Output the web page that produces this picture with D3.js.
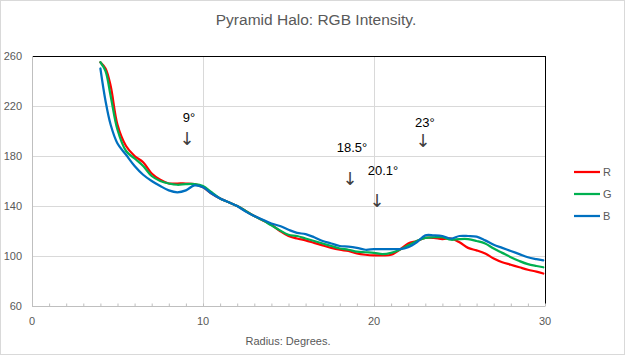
<!DOCTYPE html>
<html><head><meta charset="utf-8">
<script src="https://cdn.jsdelivr.net/npm/d3@7"></script>
<style>body{margin:0;background:#fff}svg{display:block}</style>
</head><body><svg id="c" width="625" height="355"></svg>
<script>
const radius = [4.0,4.3,4.6,5.0,5.5,6.0,6.5,7.0,7.5,8.0,8.5,9.0,9.5,10.0,10.5,11,11.5,12,12.5,13,13.5,14,14.5,15,15.5,16,16.5,17,17.5,18,18.5,19,19.5,20,20.5,21,21.5,22,22.5,23,23.5,24,24.5,25,25.5,26,26.5,27,27.5,28,28.5,29,29.5,29.9];
const red = [255,250,236,205,188,180,175,166,161,158,158,158,157.5,155,150,146,143,140,136,132,128.5,125,120,116,114,112.5,110.5,108.5,106.5,105,104,102,101,100.5,100.5,101,105,110,112,114.5,114.5,113.5,114,111,106.5,104.5,102,98,95,93,91,89,87.5,86];
const green = [255,248,228,201,184,178,172,164,160,158,157,157.5,157.5,156,151,146,143,140,136,132,128.5,124.5,120.5,117,116,114,112,110,108,106,105,103.5,103,102.5,101.5,102.5,105,108.5,112,114.5,115,115,113,113.5,113.5,112,110,106,102.5,99,96,93.5,92,91];
const blue = [250,224,205,190,181,172,165,160,156,152.5,151,152.5,156.5,155,150,146,143,140,135.5,132,129,126,124,121,118.5,117.5,115,112,110,108,107.5,106.5,105,105.5,105.5,105.5,105.5,107,111,116.5,116.5,116,114,116,116,115.5,112.5,109,106.5,104,101.5,99,97.5,96.5];
const seriesNames = ["R","G","B"];
const seriesColors = ["#FF0000","#00B050","#0070C0"];
const yTicks = [60,100,140,180,220,260];
const xTicks = [0,10,20,30];
const annotLabels = ["9°","18.5°","20.1°","23°"];
const annotTextX = [9.18,18.71,20.53,22.98];
const annotTextY = [207,183,164.5,203];
const annotArrowX = [9.06,18.6,20.18,22.87];
const annotArrowY = [190,158,140,188];

const svg = d3.select("#c");
const grey = "#595959";
svg.append("rect").attr("x",0.5).attr("y",0.5).attr("width",624).attr("height",354)
  .attr("fill","#fff").attr("stroke","#D9D9D9");

const x = d3.scaleLinear().domain([0,30]).range([32,545]);
const y = d3.scaleLinear().domain([60,260]).range([306,56]);

svg.append("text").attr("x",316).attr("y",25).attr("text-anchor","middle")
  .attr("font-family","Liberation Sans, Arial, sans-serif").attr("font-size",15.5).attr("fill",grey)
  .text("Pyramid Halo: RGB Intensity.");

const g = svg.append("g");
g.selectAll("line.h").data(yTicks.filter(v=>v>60&&v<260)).join("line")
  .attr("x1",x(0)).attr("x2",x(30)).attr("y1",d=>Math.round(y(d))+0.5).attr("y2",d=>Math.round(y(d))+0.5)
  .attr("stroke","#D9D9D9");
g.selectAll("line.v").data(xTicks.filter(v=>v>0&&v<30)).join("line")
  .attr("y1",y(60)).attr("y2",y(260)).attr("x1",d=>Math.round(x(d))+0.5).attr("x2",d=>Math.round(x(d))+0.5)
  .attr("stroke","#D9D9D9");
g.append("line").attr("x1",x(0)).attr("x2",x(30)+0.5).attr("y1",Math.round(y(260))+0.5).attr("y2",Math.round(y(260))+0.5).attr("stroke","#000");
g.append("line").attr("x1",Math.round(x(30))+0.5).attr("x2",Math.round(x(30))+0.5).attr("y1",y(260)).attr("y2",y(60)).attr("stroke","#000");

const xAxis = d3.axisBottom(x).tickValues(d3.range(0,31,1)).tickSize(-3).tickFormat("");
const xa = svg.append("g").attr("transform",`translate(0,${Math.round(y(60))+0.5})`).call(xAxis);
xa.selectAll("path,line").attr("stroke","#BFBFBF");
xa.select(".domain").attr("d",`M${x(0)},0H${x(30)}`);
svg.append("g").selectAll("text").data(xTicks).join("text")
  .attr("x",d=>x(d)).attr("y",325).attr("text-anchor","middle")
  .attr("font-family","Liberation Sans, Arial, sans-serif").attr("font-size",11).attr("fill",grey)
  .text(d=>d);
svg.append("line").attr("x1",Math.round(x(0))+0.5).attr("x2",Math.round(x(0))+0.5).attr("y1",y(260)).attr("y2",y(60)).attr("stroke","#BFBFBF");
svg.append("g").selectAll("text").data(yTicks).join("text")
  .attr("x",22).attr("y",d=>y(d)+4).attr("text-anchor","end")
  .attr("font-family","Liberation Sans, Arial, sans-serif").attr("font-size",11).attr("fill",grey)
  .text(d=>d);
svg.append("text").attr("x",288).attr("y",345).attr("text-anchor","middle")
  .attr("font-family","Liberation Sans, Arial, sans-serif").attr("font-size",11).attr("fill",grey)
  .text("Radius: Degrees.");

const line = d3.line().x(d=>x(d[0])).y(d=>y(d[1])).curve(d3.curveCatmullRom.alpha(0.5));
const all = [red,green,blue];
all.forEach((vals,i)=>{
  svg.append("path").datum(radius.map((r,j)=>[r,vals[j]]))
    .attr("d",line).attr("fill","none").attr("stroke",seriesColors[i])
    .attr("stroke-width",2.25).attr("stroke-linejoin","round").attr("stroke-linecap","round");
});

const lg = svg.append("g");
seriesNames.forEach((n,i)=>{
  const ly = 172 + i*22;
  lg.append("line").attr("x1",574).attr("x2",600).attr("y1",ly).attr("y2",ly)
    .attr("stroke",seriesColors[i]).attr("stroke-width",2.25);
  lg.append("text").attr("x",603).attr("y",ly+4).attr("font-family","Liberation Sans, Arial, sans-serif")
    .attr("font-size",11).attr("fill",grey).text(n);
});

annotLabels.forEach((t,i)=>{
  svg.append("text").attr("x",x(annotTextX[i])).attr("y",y(annotTextY[i])).attr("text-anchor","middle")
    .attr("font-family","Liberation Sans, Arial, sans-serif").attr("font-size",13).attr("fill","#000").text(t);
  svg.append("text").attr("x",x(annotArrowX[i])).attr("y",y(annotArrowY[i])+1).attr("text-anchor","middle")
    .attr("font-family","DejaVu Sans, sans-serif").attr("font-size",18).attr("fill","#404040").text("↓");
});
</script></body></html>
